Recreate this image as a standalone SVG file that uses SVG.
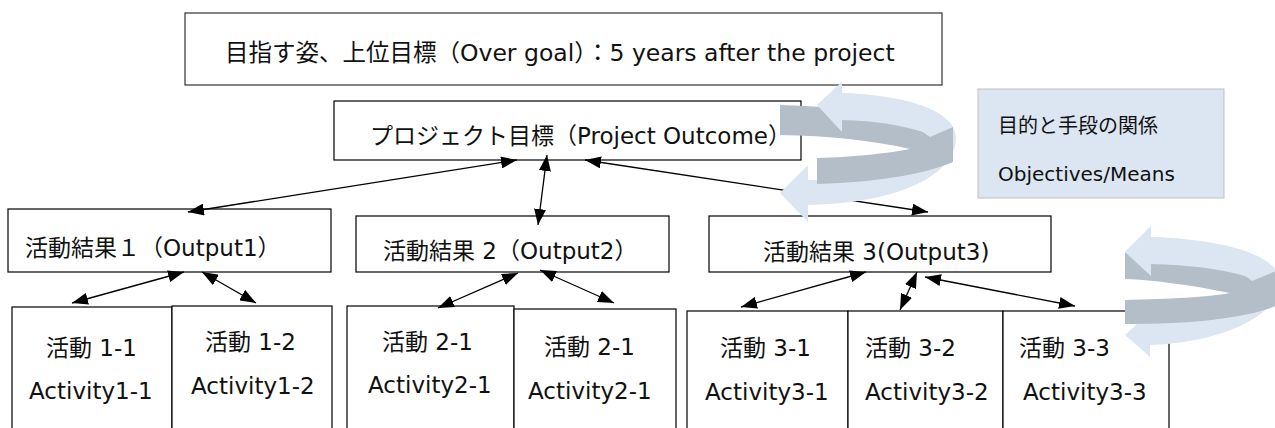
<svg xmlns="http://www.w3.org/2000/svg" width="1275" height="428" viewBox="0 0 1275 428">
<defs>
<marker id="ah" markerUnits="userSpaceOnUse" markerWidth="16" markerHeight="12" refX="16" refY="6" orient="auto-start-reverse">
<path d="M0,0 L16,6 L0,12 Z" fill="#000"/>
</marker>
</defs>
<style>
.box{fill:#fff;stroke:#000;stroke-width:1.2}
.t{font-family:"DejaVu Sans","Noto Sans CJK JP",sans-serif;font-size:23px;fill:#111}
.big{font-size:23.5px}
.sm{font-size:20px}
.con{stroke:#000;stroke-width:1.3;fill:none;marker-start:url(#ah);marker-end:url(#ah)}
.lb{fill:#DCE6F2}
.gr{fill:#B4BEC9}
</style>
<rect width="1275" height="428" fill="#fff"/>

<g id="over-goal">
<rect class="box" x="185" y="13" width="757" height="72" style="stroke:#333"/>
<text class="t big" x="225" y="61">目指す姿、上位目標（Over goal）：5 years after the project</text>
</g>

<g id="project-outcome">
<rect class="box" x="334" y="101" width="467" height="59"/>
<text class="t" x="370" y="144">プロジェクト目標（Project Outcome）</text>
</g>

<g id="output1">
<rect class="box" x="8" y="209" width="323" height="63"/>
<text class="t" x="25" y="256">活動結果１（Output1）</text>
</g>
<g id="output2">
<rect class="box" x="356" y="216" width="313" height="56"/>
<text class="t" x="383" y="259">活動結果 2（Output2）</text>
</g>
<g id="output3">
<rect class="box" x="709" y="216" width="342" height="56"/>
<text class="t" x="763" y="260">活動結果 3(Output3)</text>
</g>

<g id="act1-1">
<rect class="box" x="12" y="307" width="160" height="140"/>
<text class="t" x="46" y="356">活動 1-1</text>
<text class="t" x="29" y="399">Activity1-1</text>
</g>
<g id="act1-2">
<rect class="box" x="172" y="306" width="160" height="140"/>
<text class="t" x="205" y="350">活動 1-2</text>
<text class="t" x="191" y="394">Activity1-2</text>
</g>
<g id="act2-1a">
<rect class="box" x="347" y="306" width="167" height="140"/>
<text class="t" x="382" y="350">活動 2-1</text>
<text class="t" x="368" y="393">Activity2-1</text>
</g>
<g id="act2-1b">
<rect class="box" x="514" y="309" width="162" height="140"/>
<text class="t" x="544" y="355">活動 2-1</text>
<text class="t" x="528" y="399">Activity2-1</text>
</g>
<g id="act3-1">
<rect class="box" x="687" y="311" width="161" height="140"/>
<text class="t" x="720" y="356">活動 3-1</text>
<text class="t" x="705" y="400">Activity3-1</text>
</g>
<g id="act3-2">
<rect class="box" x="848" y="311" width="155" height="140"/>
<text class="t" x="865" y="356">活動 3-2</text>
<text class="t" x="865" y="400">Activity3-2</text>
</g>
<g id="act3-3">
<rect class="box" x="1003" y="311" width="166" height="140"/>
<text class="t" x="1019" y="356">活動 3-3</text>
<text class="t" x="1023" y="400">Activity3-3</text>
</g>

<g id="connectors">
<line class="con" x1="517" y1="160" x2="188" y2="212"/>
<line class="con" x1="547" y1="155" x2="538" y2="225"/>
<line class="con" x1="585" y1="160" x2="928" y2="212"/>
<line class="con" x1="184" y1="272" x2="72" y2="303"/>
<line class="con" x1="202" y1="272" x2="256" y2="303"/>
<line class="con" x1="518" y1="273" x2="438" y2="308"/>
<line class="con" x1="540" y1="270" x2="614" y2="303"/>
<line class="con" x1="866" y1="272" x2="741" y2="307"/>
<line class="con" x1="917" y1="272" x2="900" y2="310"/>
<line class="con" x1="925" y1="277" x2="1075" y2="306"/>
</g>

<g id="legend">
<rect x="978" y="89" width="246" height="109" fill="#DCE6F2" stroke="#BFBFBF" stroke-width="1"/>
<text class="t sm" x="998" y="133">目的と手段の関係</text>
<text class="t sm" x="998" y="181">Objectives/Means</text>
</g>

<g id="cycle-arrow-1">
<path class="lb" d="M817,105 L842,82 L842,93 C905,95 956,110 956,138 C956,172 905,203 808,205 L808,222 L780,193 L808,165 L808,180 C880,180 930,160 930,140 C930,127 895,120 842,120 L842,132 Z"/>
<path class="gr" d="M780,105 C850,107 905,115 930,137 L953,127 L953,162 C925,174 880,182 817,184 L817,158 C855,157 890,153 910,149 C870,140 830,136 780,135 Z"/>
<path class="lb" d="M817,105 L842,82 L842,93 C895,95 940,108 953,127 L928,134 C905,125 875,121 842,120 L842,132 Z"/>
</g>

<g id="cycle-arrow-2">
<path class="lb" d="M1125,252 L1151,226 L1151,237 C1220,239 1280,254 1280,282 C1280,316 1220,343 1150,345 L1150,357 L1125,335 L1150,312 L1150,322 C1220,322 1252,304 1252,284 C1252,271 1210,264 1151,264 L1151,276 Z"/>
<path class="gr" d="M1125,253 C1185,254 1232,262 1252,281 L1276,271 L1276,306 C1244,318 1195,324 1125,324 L1125,300 C1170,299 1208,297 1230,293 C1190,285 1155,280 1125,279 Z"/>
<path class="lb" d="M1125,252 L1151,226 L1151,237 C1210,239 1262,252 1276,271 L1250,278 C1226,269 1190,265 1151,264 L1151,276 Z"/>
</g>
</svg>
